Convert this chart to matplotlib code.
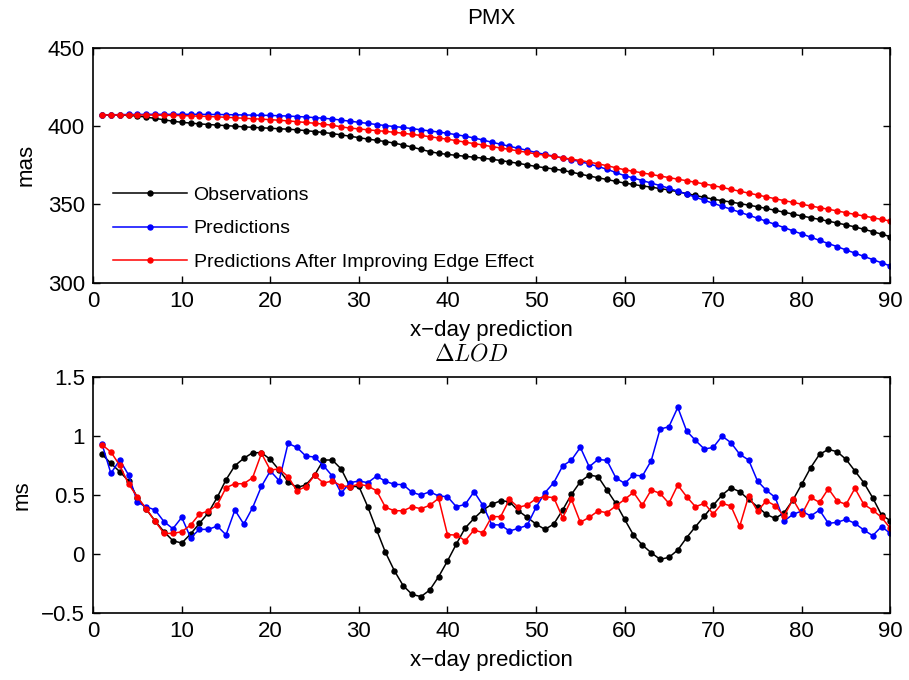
import numpy as np
import matplotlib
matplotlib.use("Agg")
import matplotlib.pyplot as plt

plt.rcParams['font.family'] = ['Liberation Sans', 'DejaVu Sans']
plt.rcParams['mathtext.fontset'] = 'cm'

days = list(range(1, 91))

pmx_obs = [407.0, 407.0, 406.9, 406.7, 406.3, 405.6, 404.8, 403.9, 403.0, 402.3,
           401.8, 401.3, 400.9, 400.5, 400.2, 399.8, 399.4, 399.1, 398.8, 398.5,
           398.2, 397.9, 397.5, 397.0, 396.4, 395.8, 395.1, 394.3, 393.4, 392.5,
           391.6, 390.8, 390.0, 389.0, 387.8, 386.5, 385.0, 383.6, 382.5, 381.8,
           381.2, 380.6, 380.0, 379.4, 378.7, 377.9, 377.0, 376.1, 375.1, 374.1,
           373.3, 372.5, 371.6, 370.5, 369.2, 368.0, 366.9, 365.8, 364.6, 363.5,
           362.6, 361.7, 360.9, 360.0, 359.1, 358.0, 356.8, 355.6, 354.4, 353.2,
           352.3, 351.4, 350.4, 349.4, 348.4, 347.3, 346.1, 344.9, 343.7, 342.5,
           341.4, 340.3, 339.2, 338.0, 336.8, 335.5, 334.0, 332.5, 330.9, 329.3]

pmx_pred = [407.0, 407.1, 407.2, 407.3, 407.3, 407.4, 407.4, 407.4, 407.4, 407.4,
            407.4, 407.4, 407.3, 407.3, 407.2, 407.1, 407.0, 406.9, 406.8, 406.7,
            406.5, 406.3, 406.0, 405.7, 405.3, 404.9, 404.4, 403.7, 403.0, 402.3,
            401.6, 400.9, 400.2, 399.6, 399.0, 398.3, 397.5, 396.8, 396.1, 395.3,
            394.4, 393.4, 392.3, 391.0, 389.6, 388.3, 387.0, 385.7, 384.4, 383.0,
            381.8, 380.7, 379.5, 378.4, 377.2, 375.7, 374.1, 372.3, 370.3, 368.2,
            366.7, 365.1, 363.5, 361.9, 360.2, 358.3, 356.4, 354.5, 352.5, 350.6,
            348.7, 346.8, 344.9, 343.0, 341.1, 339.1, 337.1, 335.1, 333.0, 331.0,
            329.0, 326.9, 324.9, 322.9, 320.8, 318.8, 316.7, 314.7, 312.6, 310.6]

pmx_impr = [407.0, 407.0, 407.0, 407.0, 407.0, 406.9, 406.9, 406.8, 406.7, 406.6,
            406.4, 406.2, 406.0, 405.8, 405.5, 405.2, 404.9, 404.6, 404.3, 404.0,
            403.6, 403.2, 402.7, 402.2, 401.7, 401.1, 400.4, 399.4, 398.6, 398.1,
            397.5, 397.0, 396.5, 395.9, 395.3, 394.6, 393.9, 393.1, 392.3, 391.5,
            390.6, 389.6, 388.7, 387.8, 386.8, 385.9, 385.0, 384.0, 383.1, 382.1,
            381.3, 380.5, 379.6, 378.8, 377.9, 376.9, 375.8, 374.6, 373.3, 372.0,
            371.0, 370.0, 369.0, 368.0, 367.0, 366.0, 365.0, 364.0, 362.9, 361.9,
            360.7, 359.5, 358.3, 357.1, 355.9, 354.7, 353.5, 352.3, 351.2, 350.0,
            348.9, 347.8, 346.8, 345.7, 344.6, 343.5, 342.5, 341.4, 340.3, 339.3]

lod_obs = [0.842, 0.766, 0.695, 0.616, 0.475, 0.376, 0.277, 0.186, 0.110, 0.090,
           0.167, 0.257, 0.347, 0.477, 0.627, 0.746, 0.808, 0.856, 0.856, 0.799,
           0.709, 0.610, 0.562, 0.582, 0.667, 0.794, 0.794, 0.718, 0.568, 0.570,
           0.398, 0.201, 0.011, -0.144, -0.271, -0.345, -0.364, -0.308, -0.195, -0.062,
           0.082, 0.218, 0.299, 0.370, 0.418, 0.449, 0.441, 0.364, 0.308, 0.251,
           0.206, 0.251, 0.370, 0.503, 0.610, 0.667, 0.653, 0.540, 0.427, 0.291,
           0.158, 0.073, 0.008, -0.048, -0.031, 0.031, 0.136, 0.229, 0.319, 0.410,
           0.497, 0.559, 0.525, 0.460, 0.398, 0.333, 0.299, 0.347, 0.455, 0.590,
           0.729, 0.842, 0.884, 0.864, 0.799, 0.701, 0.602, 0.475, 0.328, 0.280]

lod_pred = [0.929, 0.681, 0.794, 0.667, 0.435, 0.398, 0.370, 0.271, 0.212, 0.308,
            0.136, 0.206, 0.206, 0.234, 0.160, 0.370, 0.251, 0.390, 0.571, 0.701,
            0.619, 0.935, 0.901, 0.828, 0.819, 0.746, 0.658, 0.514, 0.602, 0.616,
            0.602, 0.658, 0.613, 0.588, 0.585, 0.520, 0.497, 0.525, 0.489, 0.483,
            0.398, 0.418, 0.525, 0.410, 0.246, 0.243, 0.192, 0.215, 0.240, 0.393,
            0.517, 0.602, 0.743, 0.794, 0.901, 0.737, 0.799, 0.791, 0.644, 0.596,
            0.667, 0.658, 0.788, 1.056, 1.076, 1.240, 1.040, 0.960, 0.887, 0.901,
            0.997, 0.941, 0.842, 0.794, 0.616, 0.537, 0.477, 0.277, 0.333, 0.362,
            0.319, 0.370, 0.257, 0.266, 0.291, 0.257, 0.201, 0.153, 0.229, 0.172]

lod_impr = [0.924, 0.862, 0.749, 0.590, 0.480, 0.379, 0.274, 0.172, 0.172, 0.186,
            0.243, 0.336, 0.362, 0.412, 0.560, 0.593, 0.593, 0.644, 0.850, 0.709,
            0.718, 0.653, 0.534, 0.568, 0.664, 0.599, 0.616, 0.576, 0.568, 0.590,
            0.573, 0.534, 0.393, 0.364, 0.364, 0.398, 0.381, 0.410, 0.469, 0.161,
            0.158, 0.110, 0.201, 0.178, 0.314, 0.314, 0.460, 0.393, 0.412, 0.466,
            0.483, 0.475, 0.305, 0.460, 0.266, 0.308, 0.362, 0.347, 0.404, 0.460,
            0.520, 0.412, 0.540, 0.511, 0.427, 0.582, 0.483, 0.398, 0.427, 0.336,
            0.427, 0.404, 0.234, 0.489, 0.362, 0.448, 0.407, 0.319, 0.460, 0.333,
            0.477, 0.435, 0.551, 0.446, 0.418, 0.554, 0.418, 0.370, 0.308, 0.215]

labels = ['Observations', 'Predictions', 'Predictions After Improving Edge Effect']
colors = ['black', 'blue', 'red']
xticks = list(range(0, 91, 10))

fig = plt.figure(figsize=(9.09, 6.80), dpi=100)
ax1 = fig.add_axes([0.1025, 0.5845, 0.877, 0.3455])
ax2 = fig.add_axes([0.1025, 0.0990, 0.877, 0.3470])

line_kw = dict(marker='o', markersize=3.6, linewidth=1.1)

for ys, c, lab in zip([pmx_obs, pmx_pred, pmx_impr], colors, labels):
    ax1.plot(days, ys, color=c, label=lab, **line_kw)
for ys, c in zip([lod_obs, lod_pred, lod_impr], colors):
    ax2.plot(days, ys, color=c, **line_kw)

ax1.set_xlim(0, 90)
ax1.set_ylim(300, 450)
ax1.set_yticks([300, 350, 400, 450])
ax2.set_xlim(0, 90)
ax2.set_ylim(-0.5, 1.5)
ax2.set_yticks([-0.5, 0, 0.5, 1, 1.5])
ax2.set_yticklabels(['\u22120.5', '0', '0.5', '1', '1.5'])

for ax in (ax1, ax2):
    ax.set_xticks(xticks)
    ax.tick_params(direction='in', length=5, width=1.0, top=True, right=True,
                   labelsize=16, pad=6)
    for s in ax.spines.values():
        s.set_linewidth(1.2)
    ax.set_xlabel('x\u2212day prediction', fontsize=16, labelpad=6)

ax1.set_ylabel('mas', fontsize=16, labelpad=8)
ax2.set_ylabel('ms', fontsize=16, labelpad=6)
ax1.set_title('PMX', fontsize=16, pad=17)
ax2.set_title(r'$\Delta LOD$', fontsize=17, pad=12, x=0.475)

leg = ax1.legend(loc='lower left', frameon=False, fontsize=14,
                 handlelength=3.8, handletextpad=0.35, labelspacing=0.82,
                 bbox_to_anchor=(0.015, 0.016), borderaxespad=0.0)

fig.savefig('out.png', dpi=100)
